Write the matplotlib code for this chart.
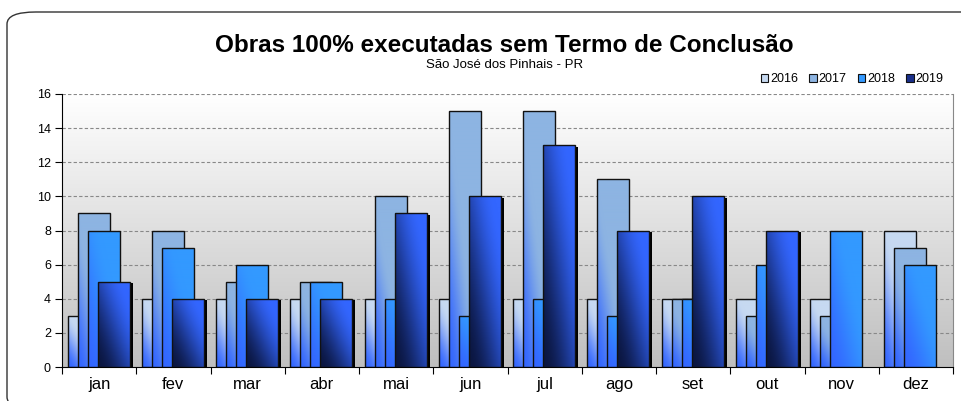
import numpy as np
import matplotlib
matplotlib.use('Agg')
import matplotlib.pyplot as plt
from matplotlib.patches import Rectangle, FancyBboxPatch, Patch
from matplotlib.colors import to_rgb

plt.rcParams['font.family'] = ['Liberation Sans', 'DejaVu Sans']

# dados
meses = ['jan', 'fev', 'mar', 'abr', 'mai', 'jun', 'jul', 'ago', 'set', 'out', 'nov', 'dez']
anos = ['2016', '2017', '2018', '2019']
v2016 = [3, 4, 4, 4, 4, 4, 4, 4, 4, 4, 4, 8]
v2017 = [9, 8, 5, 5, 10, 15, 15, 11, 4, 3, 3, 7]
v2018 = [8, 7, 6, 5, 4, 3, 4, 3, 4, 6, 8, 6]
v2019 = [5, 4, 4, 4, 9, 10, 13, 8, 10, 8, 0, 0]

# cor do topo (direita) e cor do canto inferior esquerdo
cores_topo = ['#c6d9f1', '#8db4e2', '#3399ff', '#3366ff']
cores_base = ['#3366ff', '#3366ff', '#3366ff', '#0b1640']
faixa = [(0.45, 1.0), (0.5, 1.0), (0.3, 1.0), (0.1, 1.0)]

fig = plt.figure(figsize=(9.61, 4.01), dpi=100)

# moldura arredondada
moldura = FancyBboxPatch((7 / 961, -0.02), 1.2, 1 - 12 / 401 + 0.02,
                         boxstyle='round,pad=0,rounding_size=0.03',
                         transform=fig.transFigure, fill=False,
                         edgecolor='#333333', linewidth=1.0)
fig.patches.append(moldura)

ax = fig.add_axes([62 / 961, 34 / 401, (953 - 62) / 961, (367 - 94) / 401])
ax.set_xlim(0, 12)
ax.set_ylim(0, 16)

# fundo em degradê
fundo = np.linspace(0.75, 1.0, 256).reshape(-1, 1)
fundo = np.dstack([fundo, fundo, fundo])
ax.imshow(fundo, extent=[0, 12, 0, 16], origin='lower', aspect='auto', zorder=0)

for y in range(2, 17, 2):
    ax.axhline(y, color='#888888', linestyle=(0, (3, 2)), linewidth=0.8, zorder=1)


def barra_degrade(x0, larg, alt, c_topo, c_base, t0, t1, z):
    if alt <= 0:
        return
    n = 64
    u = np.linspace(0, 1, n).reshape(1, -1)
    v = np.linspace(0, 1, n).reshape(-1, 1)
    t = ((1 - u) + (1 - v)) / 2
    t = np.clip((t - t0) / (t1 - t0), 0, 1)
    t = t * t * (3 - 2 * t)
    a = np.array(to_rgb(c_topo))
    b = np.array(to_rgb(c_base))
    img = a[None, None, :] + (b - a)[None, None, :] * t[:, :, None]
    ret = Rectangle((x0, 0), larg, alt, facecolor='none', edgecolor='#111111',
                    linewidth=1.0, zorder=z + 0.5)
    ax.add_patch(ret)
    im = ax.imshow(img, extent=[x0, x0 + larg, 0, alt], origin='lower',
                   aspect='auto', zorder=z)
    im.set_clip_path(ret)


serie = [v2016, v2017, v2018, v2019]
larg = 0.43
for k, vals in enumerate(serie):
    for i, val in enumerate(vals):
        x0 = i + 0.075 + k * 0.135
        z = 2 + k
        if k == 3 and val > 0:
            ax.add_patch(Rectangle((x0 + larg, 0), 0.04, val - 0.08,
                                   facecolor='black', edgecolor='none', zorder=z))
        barra_degrade(x0, larg, val, cores_topo[k], cores_base[k],
                      faixa[k][0], faixa[k][1], z + 0.1)

ax.set_xticks(np.arange(0, 13))
ax.set_xticklabels([])
ax.set_xticks(np.arange(12) + 0.5, minor=True)
ax.set_xticklabels(meses, minor=True, fontsize=12)
ax.tick_params(axis='x', which='major', length=5, direction='out', color='black')
ax.tick_params(axis='x', which='minor', length=0, pad=7)
ax.set_yticks(range(0, 17, 2))
ax.tick_params(axis='y', length=5, direction='out', labelsize=9, pad=3)

ax.spines['left'].set_color('black')
ax.spines['bottom'].set_color('black')
ax.spines['right'].set_color('#888888')
ax.spines['top'].set_visible(False)

fig.text(0.525, 0.886, 'Obras 100% executadas sem Termo de Conclusão',
         ha='center', va='center', fontsize=17.5, fontweight='bold')
fig.text(0.525, 0.837, 'São José dos Pinhais - PR', ha='center', va='center',
         fontsize=9.5)

alcas = [Patch(facecolor=cores_topo[k] if k < 3 else '#1a2f8a',
               edgecolor='#111111', linewidth=0.8) for k in range(4)]
fig.legend(alcas, anos, loc='center right', bbox_to_anchor=(950 / 961, 1 - 79 / 401),
           ncol=4, frameon=False, fontsize=9, handlelength=0.6, handleheight=0.6,
           handletextpad=0.15, columnspacing=0.9, borderpad=0)

fig.savefig('out.png', dpi=100)
